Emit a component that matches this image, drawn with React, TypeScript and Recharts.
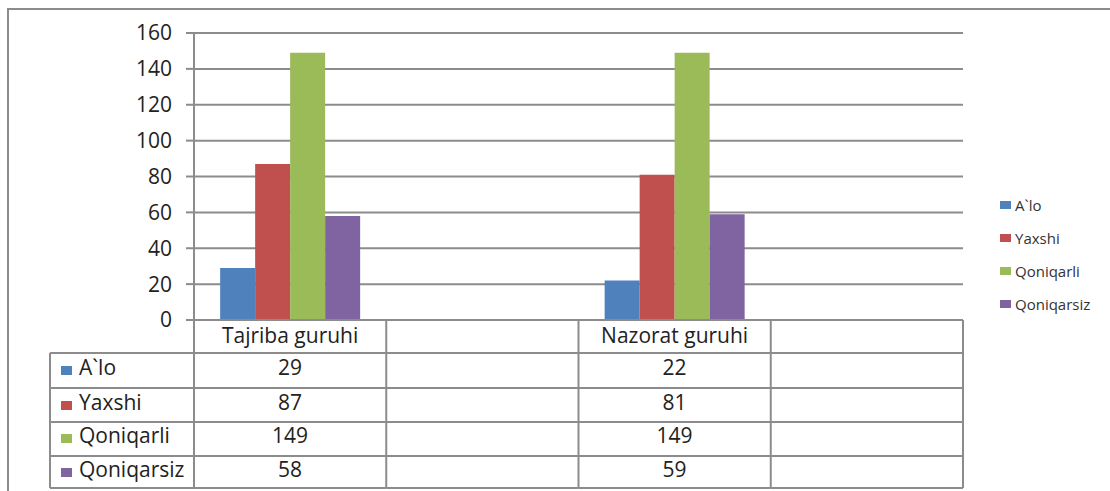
import { BarChart, Bar, XAxis, YAxis, CartesianGrid } from "recharts";

// categories on the x axis (Excel chart with two empty slots)
const categories = ["Tajriba guruhi", "", "Nazorat guruhi", ""];
const aloValues = [29, null, 22, null];
const yaxshiValues = [87, null, 81, null];
const qoniqarliValues = [149, null, 149, null];
const qoniqarsizValues = [58, null, 59, null];
const yTicks = [0, 20, 40, 60, 80, 100, 120, 140, 160];

const series = [
  { key: "alo", name: "A`lo", color: "#4F81BD", values: aloValues },
  { key: "yaxshi", name: "Yaxshi", color: "#C0504D", values: yaxshiValues },
  { key: "qoniqarli", name: "Qoniqarli", color: "#9BBB59", values: qoniqarliValues },
  { key: "qoniqarsiz", name: "Qoniqarsiz", color: "#8064A2", values: qoniqarsizValues },
];

const data = categories.map((c, i) => {
  const row: Record<string, any> = { id: "c" + i, label: c };
  series.forEach((s) => (row[s.key] = s.values[i]));
  return row;
});

const W = 1110;
const H = 491;
const PLOT_LEFT = 194;
const PLOT_RIGHT = 963;
const PLOT_TOP = 33;
const PLOT_H = 287;
const AXIS_H = 171;
const Y_W = 60;
const BAND = (PLOT_RIGHT - PLOT_LEFT) / categories.length;
const LINE = "#8c8c8c";
const FONT = "'Open Sans', sans-serif";
const TXT = "#222";
const FS = 21;

// row boundaries of the data table, relative to the x axis line
const rowLines = [33, 68, 102, 136, 168];
const rowBase = [55, 90, 123, 157];
const TABLE_LEFT = 50;

function TableTick(props: any) {
  const { x, y, payload } = props;
  const i = payload.index;
  const left = x - BAND / 2;
  const right = x + BAND / 2;
  const last = i === categories.length - 1;
  return (
    <g>
      <line x1={left} x2={left} y1={y} y2={y + 168} stroke={LINE} strokeWidth={2} />
      {last && <line x1={right} x2={right} y1={y} y2={y + 168} stroke={LINE} strokeWidth={2} />}
      {rowLines.map((d) => (
        <line key={d} x1={left} x2={right} y1={y + d} y2={y + d} stroke={LINE} strokeWidth={2} />
      ))}
      <text x={x} y={y + 23} textAnchor="middle" fontFamily={FONT} fontSize={FS} fill={TXT}>
        {categories[i]}
      </text>
      {series.map((s, r) => (
        <text key={s.key} x={x} y={y + rowBase[r]} textAnchor="middle" fontFamily={FONT} fontSize={FS} fill={TXT}>
          {s.values[i] ?? ""}
        </text>
      ))}
      {i === 0 && (
        <g>
          <line x1={TABLE_LEFT} x2={TABLE_LEFT} y1={y + 33} y2={y + 168} stroke={LINE} strokeWidth={2} />
          {rowLines.map((d) => (
            <line key={d} x1={TABLE_LEFT} x2={left} y1={y + d} y2={y + d} stroke={LINE} strokeWidth={2} />
          ))}
          {series.map((s, r) => (
            <g key={s.key}>
              <rect x={61} y={y + rowBase[r] - 9} width={11} height={9} fill={s.color} />
              <text x={79} y={y + rowBase[r]} fontFamily={FONT} fontSize={FS} fill={TXT}>
                {s.name}
              </text>
            </g>
          ))}
        </g>
      )}
    </g>
  );
}

function SideLegend() {
  return (
    <div style={{ position: "absolute", left: 1000, top: 188, fontFamily: FONT, fontSize: 15, color: "#333" }}>
      {series.map((s) => (
        <div key={s.key} style={{ display: "flex", alignItems: "center", height: 33, whiteSpace: "nowrap" }}>
          <span style={{ width: 11, height: 8, background: s.color, marginRight: 4, display: "inline-block" }} />
          {s.name}
        </div>
      ))}
    </div>
  );
}

export default function App() {
  return (
    <div style={{ position: "fixed", left: 0, top: 0, width: W, height: H, overflow: "hidden", background: "#fff" }}>
      <div
        style={{
          position: "absolute", left: 7, top: 8, width: 1300, height: 700,
          borderLeft: `2px solid ${LINE}`, borderTop: `2px solid ${LINE}`,
        }}
      />
      <div style={{ position: "absolute", left: 0, top: 0 }}>
        <BarChart
          width={W}
          height={H}
          data={data}
          margin={{ top: PLOT_TOP, right: W - PLOT_RIGHT, bottom: H - PLOT_TOP - PLOT_H - AXIS_H, left: PLOT_LEFT - Y_W }}
          barCategoryGap="13.6%"
          barGap={0}
        >
          <CartesianGrid vertical={false} stroke={LINE} strokeWidth={2} />
          <XAxis
            dataKey="id"
            height={AXIS_H}
            interval={0}
            tickSize={0}
            tickMargin={0}
            tickLine={false}
            axisLine={{ stroke: LINE, strokeWidth: 2 }}
            tick={(p: any) => <TableTick {...p} />}
          />
          <YAxis
            width={Y_W}
            domain={[0, 160]}
            ticks={yTicks}
            interval={0}
            tickSize={8}
            tickMargin={14}
            tickLine={{ stroke: LINE, strokeWidth: 2 }}
            axisLine={{ stroke: LINE, strokeWidth: 2 }}
            tick={{ fontFamily: FONT, fontSize: FS, fill: TXT }}
          />
          {series.map((s) => (
            <Bar key={s.key} dataKey={s.key} name={s.name} fill={s.color} isAnimationActive={false} />
          ))}
        </BarChart>
      </div>
      <SideLegend />
    </div>
  );
}
